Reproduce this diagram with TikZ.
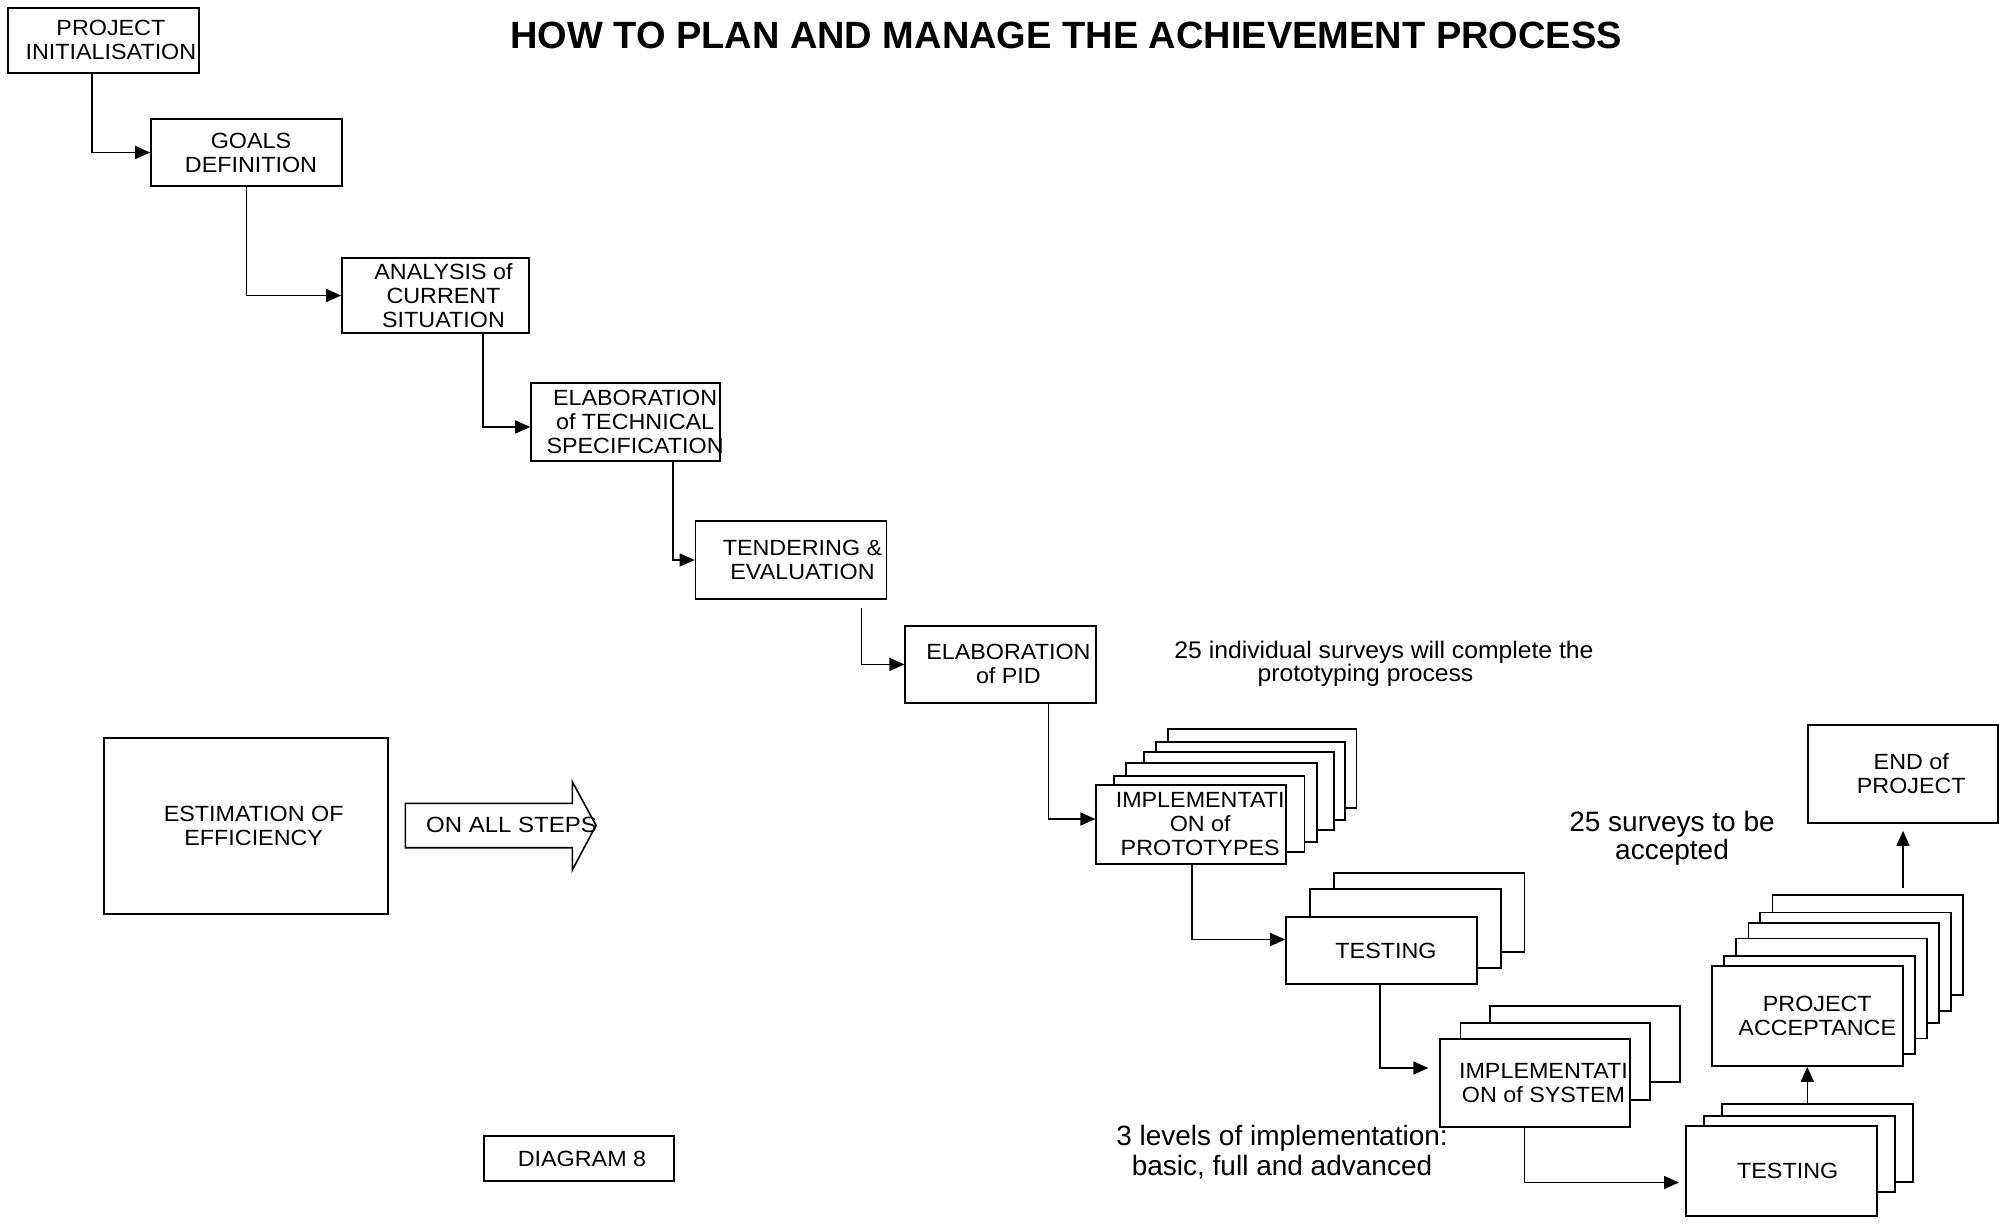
\documentclass[tikz,border=0pt]{standalone}
\usepackage{fontspec}
\setmainfont{Liberation Sans}
\newfontfamily\boxfont{Liberation Sans}[FakeStretch=1.06]
\newfontfamily\notefont{Liberation Sans}[FakeStretch=1.03]
\usetikzlibrary{arrows.meta,calc,fit}
\begin{document}
\begin{tikzpicture}[x=1pt,y=-1pt,
  box/.style={draw, line width=1.6pt, fill=white, inner sep=0pt},
  lbl/.style={inner sep=0pt, align=center, font=\boxfont\fontsize{22}{24}\selectfont, xshift=#1},
  back/.style={draw, line width=1.6pt, fill=white, inner sep=0pt},
  arr/.style={line width=1.5pt, -{Triangle[length=15pt,width=13pt]}},
  note/.style={inner sep=0pt, align=center}]
\useasboundingbox[fill=white] (0,0) rectangle (2010,1225);

% title
\node[inner sep=0pt, font=\fontsize{38}{40}\selectfont\bfseries] (title) at (1066,35) {HOW TO PLAN AND MANAGE THE ACHIEVEMENT PROCESS};

% staircase boxes
\node[box, minimum width=191pt, minimum height=65pt, label={[lbl=7.7pt]center:{PROJECT\\INITIALISATION}}] (pi) at (103.2,40.4) {};
\node[box, minimum width=191pt, minimum height=67pt, label={[lbl=4.5pt]center:{GOALS\\DEFINITION}}] (goals) at (246.5,152.5) {};
\node[box, minimum width=187pt, minimum height=75pt, label={[lbl=8pt]center:{ANALYSIS of\\CURRENT\\SITUATION}}] (ana) at (435.5,295.5) {};
\node[box, minimum width=189pt, minimum height=78pt, label={[lbl=9.6pt]center:{ELABORATION\\of TECHNICAL\\SPECIFICATION}}] (elabt) at (625.5,422) {};
\node[box, minimum width=191pt, minimum height=78pt, label={[lbl=11.5pt]center:{TENDERING \&\\EVALUATION}}] (tend) at (791,560) {};
\node[box, minimum width=191pt, minimum height=77pt, label={[lbl=7.7pt]center:{ELABORATION\\of PID}}] (pid) at (1000.7,664.4) {};

% prototypes stack
\node[back, fit={(1168,729) (1356.5,808)}] (p6) {};
\node[back, fit={(1156,742) (1345,820)}] (p5) {};
\node[back, fit={(1144,752) (1334,830)}] (p4) {};
\node[back, fit={(1126,763) (1317,842)}] (p3) {};
\node[back, fit={(1114,775.7) (1304.5,852)}] (p2) {};
\node[box, minimum width=190pt, minimum height=79pt, label={[lbl=9pt]center:{IMPLEMENTATI\\ON of\\PROTOTYPES}}] (proto) at (1191.2,824.5) {};

% testing 1 stack
\node[back, fit={(1334,873) (1524.5,952)}] (t1b3) {};
\node[back, fit={(1310,889) (1501,968)}] (t1b2) {};
\node[box, minimum width=191pt, minimum height=67pt, label={[lbl=4.5pt]center:{TESTING}}] (test1) at (1381.5,950.5) {};

% implementation of system stack
\node[back, fit={(1490,1005.7) (1680,1081.7)}] (i3) {};
\node[back, fit={(1460.6,1023) (1650,1100)}] (i2) {};
\node[box, minimum width=190pt, minimum height=88pt, label={[lbl=8.3pt]center:{IMPLEMENTATI\\ON of SYSTEM}}] (impl) at (1535.2,1083) {};

% testing 2 stack
\node[back, fit={(1722,1104) (1912.7,1181.7)}] (t2b3) {};
\node[back, fit={(1704,1115.7) (1895,1191.7)}] (t2b2) {};
\node[box, minimum width=191pt, minimum height=90pt, label={[lbl=6.4pt]center:{TESTING}}] (test2) at (1781.3,1170.8) {};

% acceptance stack
\node[back, fit={(1772.3,895) (1962.7,995)}] (a6) {};
\node[back, fit={(1760,912.3) (1950.7,1010.7)}] (a5) {};
\node[back, fit={(1748.3,922.7) (1938.7,1022.7)}] (a4) {};
\node[back, fit={(1736,938.3) (1926.7,1038.3)}] (a3) {};
\node[back, fit={(1724,956) (1914.7,1054)}] (a2) {};
\node[box, minimum width=191pt, minimum height=100pt, label={[lbl=10pt]center:{PROJECT\\ACCEPTANCE}}] (acc) at (1807.3,1016) {};

\node[box, minimum width=190pt, minimum height=98pt, label={[lbl=8.3pt]center:{END of\\PROJECT}}] (endp) at (1903,774) {};

% left side
\node[box, minimum width=284pt, minimum height=176pt, label={[lbl=7.7pt]center:{ESTIMATION OF\\EFFICIENCY}}] (est) at (246,826) {};
\draw[line width=1.6pt, fill=white] (405.4,803.3) -- (572.3,803.3) -- (572.3,781.7) -- (596,825.3) -- (572.3,870) -- (572.3,847.7) -- (405.4,847.7) -- cycle;
\node[inner sep=0pt, anchor=west, font=\boxfont\fontsize{22}{24}\selectfont\addfontfeatures{FakeStretch=1.09}] (steps) at (426,825.3) {ON ALL STEPS};
\node[box, minimum width=190pt, minimum height=45pt, label={[lbl=3pt]center:{DIAGRAM 8}}] (diag) at (579,1158.5) {};

% notes
\node[note, font=\notefont\fontsize{24}{23}\selectfont] (n1) at (1384,664) {25 individual surveys will complete the\\prototyping process\hspace*{37pt}};
\node[note, font=\fontsize{28}{28}\selectfont] (n2) at (1672,838) {25 surveys to be\\accepted};
\node[note, font=\fontsize{28}{30}\selectfont] (n3) at (1282,1152) {3 levels of implementation:\\basic, full and advanced};

% connectors
\draw[arr] ([xshift=-11pt]pi.south) |- (goals.west);
\draw[arr] (goals.south) |- (ana.west);
\draw[arr] ([xshift=47.5pt]ana.south) |- ([yshift=-5pt]elabt.west);
\draw[arr] ([xshift=47.5pt]elabt.south) |- (tend.west);
\draw[arr] ([xshift=70.5pt,yshift=-8.6pt]tend.south) |- (pid.west);
\draw[arr] ([xshift=48pt]pid.south) |- ([yshift=5.5pt]proto.west);
\draw[arr] ([xshift=0.8pt]proto.south) |- ([yshift=11pt]test1.west);
\draw[arr] ([xshift=-1.5pt]test1.south) |- ([xshift=-11pt,yshift=15pt]impl.west);
\draw[arr] ([xshift=-10.7pt]impl.south) |- ([xshift=-6pt,yshift=-11.7pt]test2.west);
\draw[arr] (acc.south |- t2b3.north) -- (acc.south);
\draw[arr] ($(endp.south |- a6.north)+(0,-6)$) -- ($(endp.south)+(0,7)$);
\end{tikzpicture}
\end{document}
